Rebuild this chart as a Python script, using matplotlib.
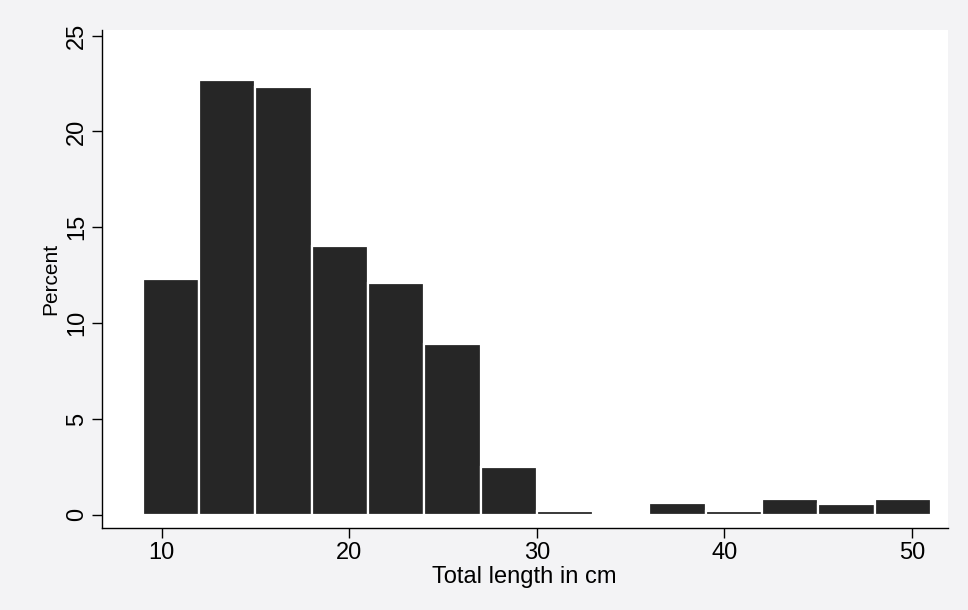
import numpy as np
import matplotlib.pyplot as plt

plt.rcParams['font.family'] = ['Liberation Sans', 'DejaVu Sans']

# histogram of total length, bins of 3 cm starting at 9 cm
bin_left = [9, 12, 15, 18, 21, 24, 27, 30, 33, 36, 39, 42, 45, 48]
percent = [12.3, 22.7, 22.3, 14.05, 12.1, 8.9, 2.5, 0.2, 0.0, 0.6, 0.2, 0.85, 0.55, 0.85]
bin_width = 3

x_ticks = [10, 20, 30, 40, 50]
y_ticks = [0, 5, 10, 15, 20, 25]

fig = plt.figure(figsize=(9.68, 6.1), dpi=100)
fig.patch.set_facecolor('#f3f3f5')
ax = fig.add_axes([0.105, 0.134, 0.874, 0.817])
ax.set_facecolor('white')

ax.bar(bin_left, percent, width=bin_width, align='edge',
       color='#262626', edgecolor='white', linewidth=1.6)

ax.set_xlim(6.8, 51.9)
ax.set_ylim(-0.7, 25.3)
ax.set_xticks(x_ticks)
ax.set_yticks(y_ticks)
ax.tick_params(direction='out', length=7, width=1, labelsize=17, pad=3)
for lab in ax.get_yticklabels():
    lab.set_rotation(90)
    lab.set_va('center')

ax.spines['top'].set_visible(False)
ax.spines['right'].set_visible(False)
ax.spines['left'].set_linewidth(1)
ax.spines['bottom'].set_linewidth(1)

ax.set_xlabel('Total length in cm', fontsize=17, labelpad=1)
ax.set_ylabel('Percent', fontsize=15, labelpad=4)

fig.savefig('out.png', dpi=100, facecolor=fig.get_facecolor())
